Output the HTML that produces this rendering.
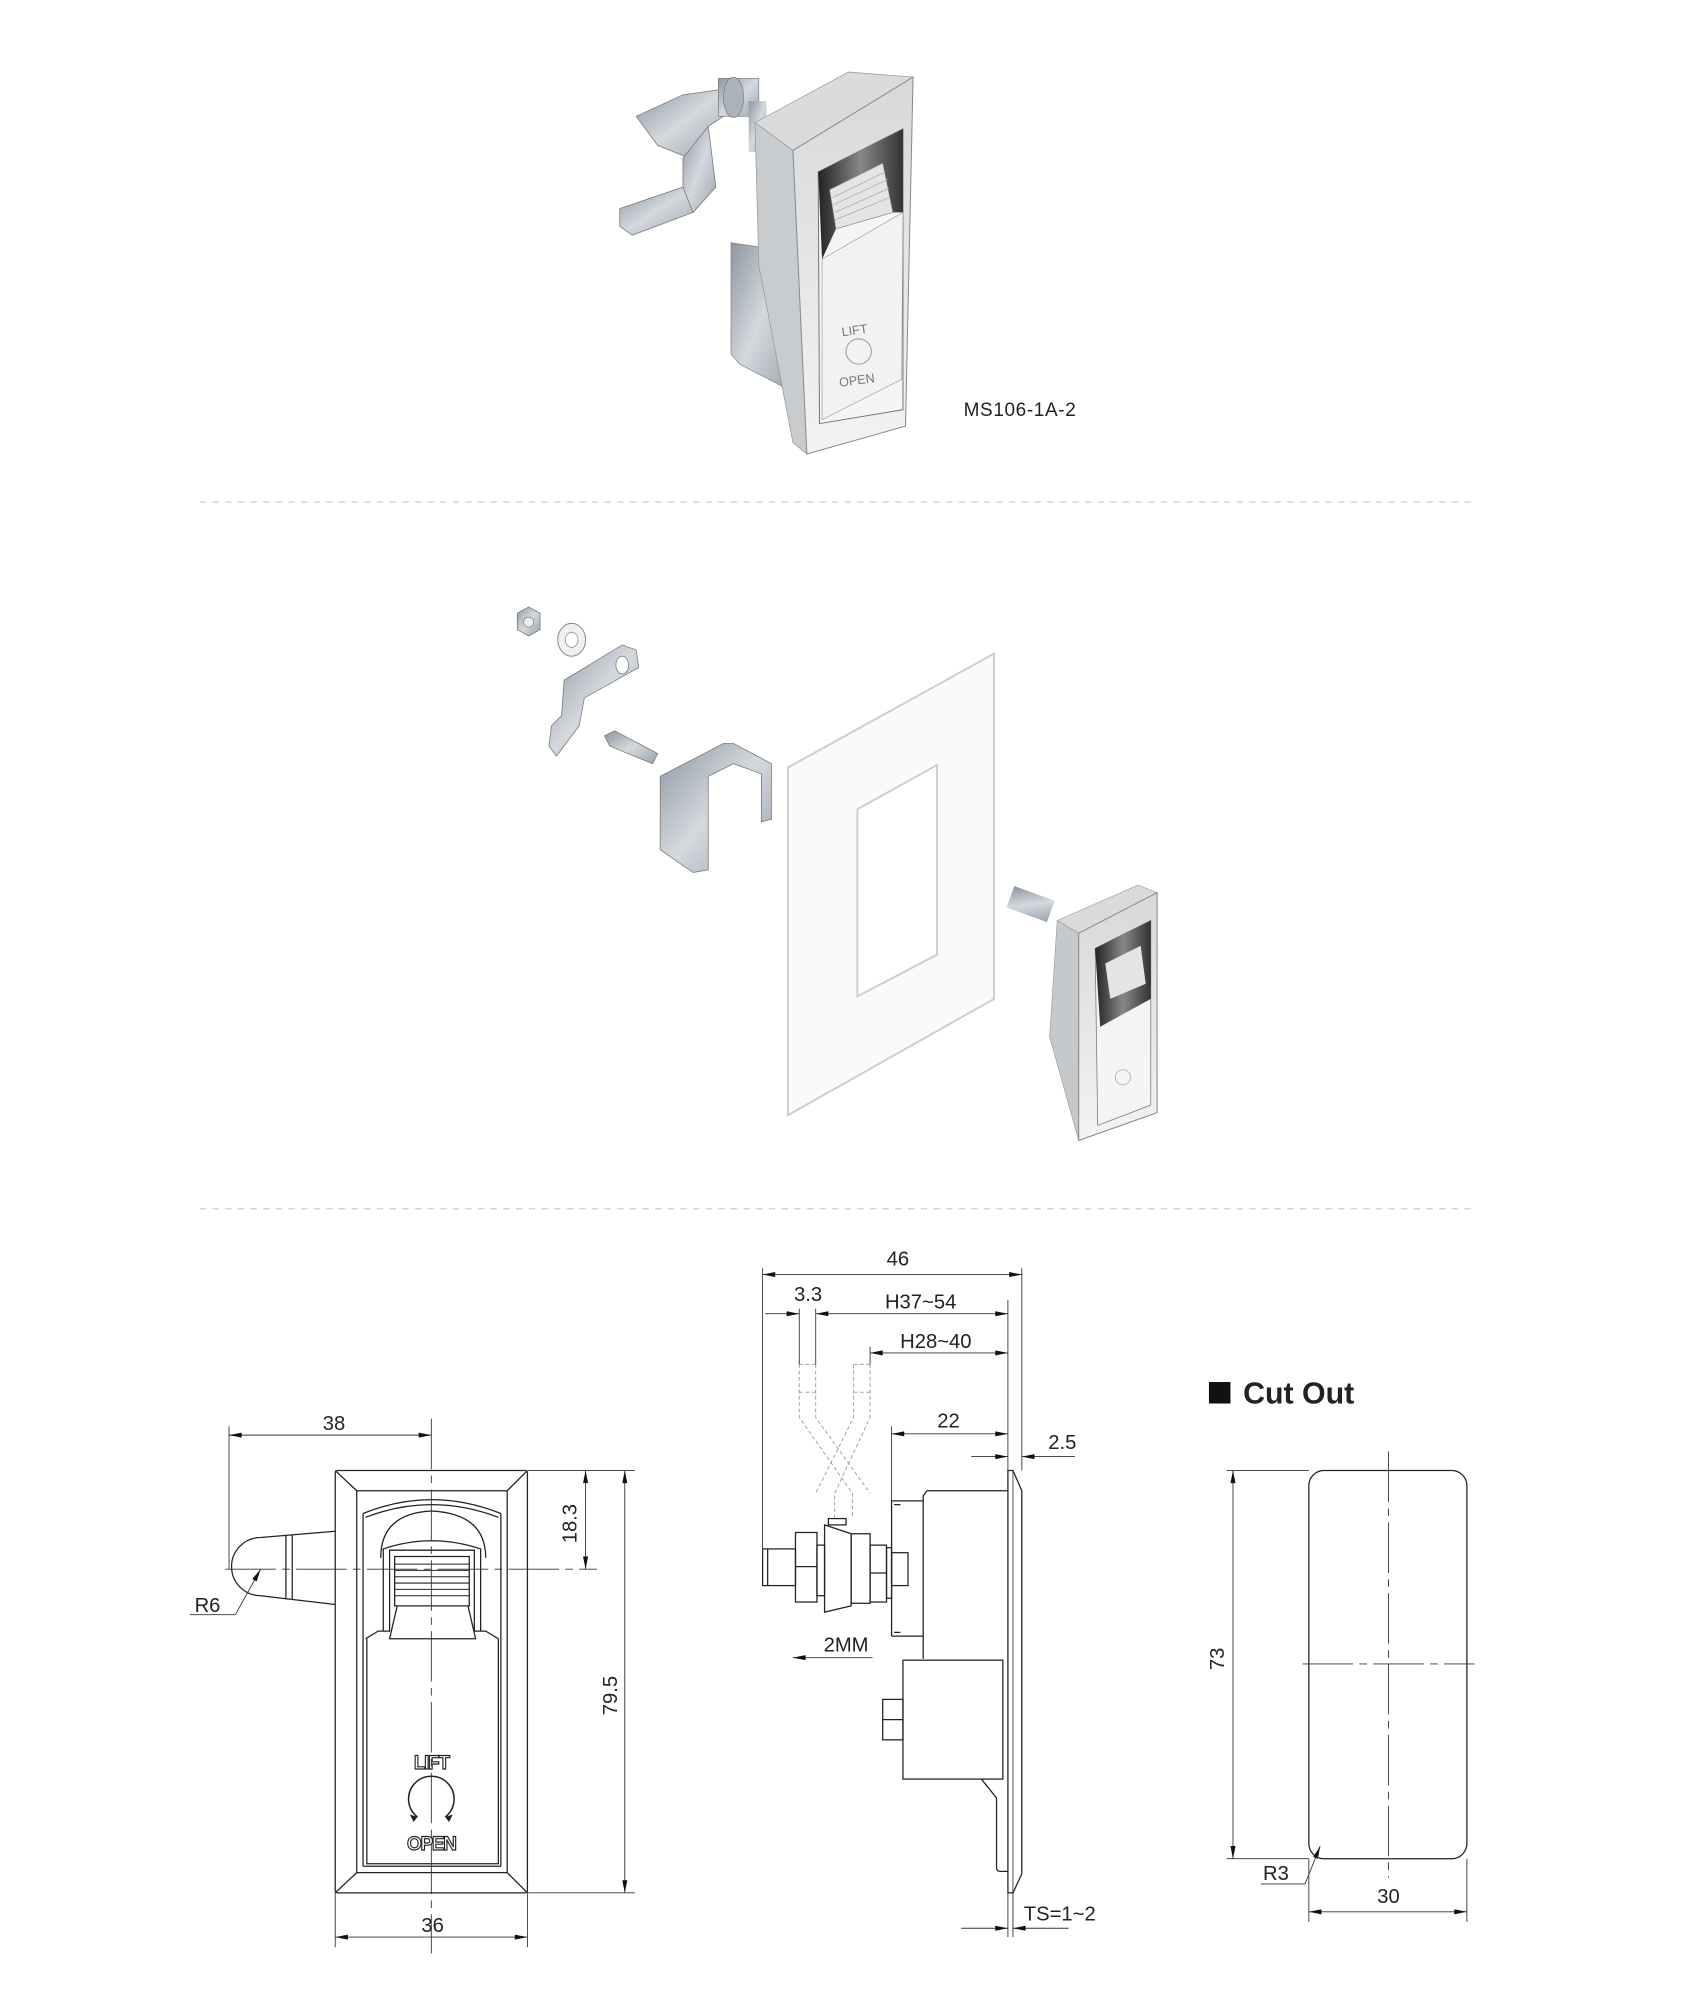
<!DOCTYPE html>
<html><head><meta charset="utf-8"><style>
html,body{margin:0;padding:0;background:#fff;}
svg{display:block;}
text{font-family:"Liberation Sans","DejaVu Sans",sans-serif;}
</style></head><body>
<svg width="1682" height="1994" viewBox="0 0 1330 1577" xmlns="http://www.w3.org/2000/svg">
<defs>
<linearGradient id="face" x1="0" y1="0" x2="0" y2="1"><stop offset="0" stop-color="#d6d8da"/><stop offset="1" stop-color="#f2f3f4"/></linearGradient>
<linearGradient id="zinc" x1="0" y1="0" x2="1" y2="1"><stop offset="0" stop-color="#8d96a0"/><stop offset="0.5" stop-color="#d4d9de"/><stop offset="1" stop-color="#9aa3ab"/></linearGradient>
<linearGradient id="dark" x1="0" y1="0" x2="1" y2="0"><stop offset="0" stop-color="#222"/><stop offset="0.5" stop-color="#888"/><stop offset="1" stop-color="#333"/></linearGradient>
<marker id="ar" viewBox="0 0 10 4" refX="10" refY="2" markerWidth="12" markerHeight="4" markerUnits="userSpaceOnUse" orient="auto-start-reverse"><path d="M0,0 L10,2 L0,4 z" fill="#111"/></marker>
</defs>

<line x1="158" y1="397" x2="1165" y2="397" stroke="#ccc" stroke-width="1" stroke-dasharray="5,5"/>
<line x1="158" y1="956" x2="1165" y2="956" stroke="#ccc" stroke-width="1" stroke-dasharray="5,5"/>

<!-- TOP PRODUCT -->
<g>
 <polygon points="503,92 540,75 575,70 575,90 560,100 545,125 520,115" fill="url(#zinc)" stroke="#777" stroke-width="0.6"/>
 <polygon points="540,125 560,100 566,148 548,168 540,160" fill="url(#zinc)" stroke="#777" stroke-width="0.6"/>
 <polygon points="490,165 540,148 548,168 500,186 490,179" fill="url(#zinc)" stroke="#777" stroke-width="0.6"/>
 <rect x="568" y="62" width="32" height="30" fill="url(#zinc)" stroke="#777" stroke-width="0.5"/>
 <ellipse cx="580" cy="77" rx="8" ry="16" fill="#aab2ba" stroke="#777" stroke-width="0.5"/>
 <rect x="592" y="80" width="14" height="40" fill="url(#zinc)"/>
 <polygon points="578,192 618,198 627,208 627,310 585,288 578,280" fill="url(#zinc)" stroke="#888" stroke-width="0.6"/>
 <polygon points="597,97 671,57 722,61 627,119" fill="#d9dbdd" stroke="#999" stroke-width="0.6"/>
 <polygon points="597,97 627,119 638,359 627,350 600,210" fill="#c9ccce" stroke="#999" stroke-width="0.6"/>
 <polygon points="627,119 722,61 716,337 638,359" fill="url(#face)" stroke="#8a8a8a" stroke-width="0.8"/>
 <polygon points="647,136 714,102 714,324 648,335" fill="#f4f5f6" stroke="#777" stroke-width="0.8"/>
 <polygon points="647,136 714,102 714,168 706,168 698,129 656,150 661,181 650,205" fill="url(#dark)"/>
 <polygon points="656,150 698,129 706,168 661,181" fill="#e2e4e6" stroke="#888" stroke-width="0.5"/>
 <g stroke="#aaa" stroke-width="0.6">
  <line x1="659" y1="156" x2="700" y2="136"/><line x1="659" y1="162" x2="702" y2="142"/><line x1="660" y1="168" x2="703" y2="149"/><line x1="660" y1="174" x2="704" y2="156"/>
 </g>
 <polygon points="650,205 714,168 713,300 650,332" fill="#f1f2f3" stroke="#999" stroke-width="0.5"/>
 <text x="666" y="266" font-size="10" fill="#777" transform="rotate(-8 666 266)">LIFT</text>
 <circle cx="679" cy="278" r="10" fill="none" stroke="#999" stroke-width="0.8"/>
 <text x="664" y="306" font-size="10" fill="#777" transform="rotate(-8 664 306)">OPEN</text>
</g>
<text x="762" y="329" font-size="15" fill="#222" letter-spacing="0.5">MS106-1A-2</text>

<!-- EXPLODED VIEW -->
<g>
 <polygon points="409,485 418,480 427,485 427,498 418,503 409,498" fill="url(#zinc)" stroke="#777" stroke-width="0.6"/>
 <circle cx="418" cy="492" r="4" fill="#eee" stroke="#777" stroke-width="0.5"/>
 <ellipse cx="452" cy="506" rx="11" ry="13" fill="#f0f0f0" stroke="#888" stroke-width="0.8"/>
 <ellipse cx="452" cy="506" rx="5" ry="6" fill="#fff" stroke="#888" stroke-width="0.6"/>
 <polygon points="446,538 492,510 503,514 505,528 462,552 458,574 440,598 434,590 436,574 444,566" fill="url(#zinc)" stroke="#777" stroke-width="0.6"/>
 <ellipse cx="492" cy="526" rx="5" ry="7" fill="#fff" stroke="#777" stroke-width="0.6"/>
 <polygon points="478,582 486,578 520,596 516,604 482,590" fill="url(#zinc)" stroke="#777" stroke-width="0.6"/>
 <polygon points="522,614 572,588 580,588 610,604 610,648 602,650 602,612 580,604 560,614 560,688 548,690 522,672" fill="url(#zinc)" stroke="#777" stroke-width="0.6"/>
 <polygon points="623,607 786,517 786,790 623,882" fill="#fafafa" stroke="#ccc" stroke-width="1.5"/>
 <polygon points="678,640 741,605 741,755 678,788" fill="#fff" stroke="#ccc" stroke-width="1.5"/>
 <rect x="798" y="706" width="34" height="18" fill="url(#zinc)" transform="rotate(20 815 715)"/>
 <polygon points="836,728 900,700 915,706 853,738" fill="#d8dadc" stroke="#999" stroke-width="0.5"/>
 <polygon points="836,728 853,738 853,902 830,820" fill="#c6c9cb" stroke="#999" stroke-width="0.5"/>
 <polygon points="853,738 915,706 915,880 853,902" fill="url(#face)" stroke="#888" stroke-width="0.8"/>
 <polygon points="866,750 910,728 910,874 868,890" fill="#f3f4f5" stroke="#777" stroke-width="0.6"/>
 <polygon points="866,750 910,728 910,790 870,812" fill="url(#dark)"/>
 <polygon points="874,762 902,748 906,778 878,790" fill="#e2e4e6"/>
 <circle cx="888" cy="852" r="6" fill="none" stroke="#aaa" stroke-width="0.6"/>
</g>

<!-- FRONT VIEW DRAWING -->
<g fill="none" stroke="#222" stroke-width="1">
 <rect x="265" y="1163" width="152" height="334" rx="2"/>
 <rect x="282" y="1179" width="119" height="302"/>
 <line x1="265" y1="1163" x2="282" y2="1179"/><line x1="417" y1="1163" x2="401" y2="1179"/>
 <line x1="265" y1="1497" x2="282" y2="1481"/><line x1="417" y1="1497" x2="401" y2="1481"/>
 <path d="M287,1197 Q341,1175 396,1197"/><path d="M289,1200 Q341,1180 394,1200"/>
 <line x1="287" y1="1197" x2="287" y2="1476"/><line x1="396" y1="1197" x2="396" y2="1476"/>
 <path d="M290,1296 L290,1474 L394,1474 L394,1296"/>
 <line x1="287" y1="1476" x2="396" y2="1476"/>
 <path d="M301,1232 Q301,1197 341,1195 Q384,1197 384,1232"/>
 <path d="M303,1290 L303,1225 Q341,1212 380,1225 L380,1290"/>
 <path d="M289,1296 L299,1290 L308,1290 L308,1226 L375,1226 L375,1290 L384,1290 L394,1296"/>
 <path d="M312,1231 L371,1231 L371,1270 L312,1270 Z"/>
 <g stroke-width="0.8"><line x1="312" y1="1237" x2="371" y2="1237"/><line x1="312" y1="1242" x2="371" y2="1242"/><line x1="312" y1="1247" x2="371" y2="1247"/><line x1="312" y1="1252" x2="371" y2="1252"/><line x1="312" y1="1257" x2="371" y2="1257"/><line x1="312" y1="1262" x2="371" y2="1262"/></g>
 <path d="M314,1270 L308,1296 L376,1296 L370,1270"/>
 <path d="M265,1211 L206,1216 A23,23 0 0 0 206,1262 L265,1269"/>
 <line x1="226" y1="1214" x2="226" y2="1265"/><line x1="231" y1="1214" x2="231" y2="1265"/>
 <path d="M330,1437 A18,18 0 1 1 352,1437" stroke-width="1.2"/>
</g>
<path d="M330,1437 l-6,-2 l3,6 z M352,1437 l6,-2 l-3,6 z" fill="#222"/>
<text x="341" y="1399" font-size="15" text-anchor="middle" fill="#fff" stroke="#222" stroke-width="0.9" font-weight="bold" letter-spacing="-1">LIFT</text>
<text x="341" y="1463" font-size="15" text-anchor="middle" fill="#fff" stroke="#222" stroke-width="0.9" font-weight="bold" letter-spacing="-1">OPEN</text>
<g stroke="#333" stroke-width="0.7" stroke-dasharray="40,5,6,5">
 <line x1="341" y1="1122" x2="341" y2="1545"/>
 <line x1="178" y1="1241" x2="472" y2="1241"/>
</g>
<g stroke="#333" stroke-width="0.7" fill="none">
 <line x1="181" y1="1128" x2="181" y2="1241"/>
 <line x1="181" y1="1135" x2="341" y2="1135" marker-start="url(#ar)" marker-end="url(#ar)"/>
 <line x1="265" y1="1497" x2="265" y2="1540"/><line x1="417" y1="1497" x2="417" y2="1540"/>
 <line x1="265" y1="1532" x2="417" y2="1532" marker-start="url(#ar)" marker-end="url(#ar)"/>
 <line x1="417" y1="1163" x2="502" y2="1163"/><line x1="417" y1="1497" x2="502" y2="1497"/>
 <line x1="494" y1="1163" x2="494" y2="1497" marker-start="url(#ar)" marker-end="url(#ar)"/>
 <line x1="463" y1="1163" x2="463" y2="1241" marker-start="url(#ar)" marker-end="url(#ar)"/>
 <line x1="206" y1="1241" x2="186" y2="1277" marker-start="url(#ar)"/>
 <line x1="186" y1="1277" x2="150" y2="1277"/>
</g>
<g font-size="16" fill="#222">
 <text x="264" y="1131" text-anchor="middle">38</text>
 <text x="342" y="1528" text-anchor="middle">36</text>
 <text x="164" y="1275" text-anchor="middle">R6</text>
 <text transform="translate(488,1341) rotate(-90)" text-anchor="middle">79.5</text>
 <text transform="translate(456,1205) rotate(-90)" text-anchor="middle">18.3</text>
</g>

<!-- SIDE VIEW -->
<g fill="none" stroke="#222" stroke-width="1">
 <polygon points="797,1163 801,1163 808,1179 808,1482 801,1497 797,1497"/>
 <line x1="801" y1="1163" x2="801" y2="1497" stroke-width="0.6"/>
 <path d="M730,1312 L730,1183 L733,1179 L797,1179"/>
 <path d="M705,1294 L705,1187 L730,1187 M705,1294 L730,1294"/>
 <line x1="707" y1="1190" x2="712" y2="1190"/><line x1="707" y1="1291" x2="712" y2="1291"/>
 <rect x="714" y="1313" width="79" height="94"/>
 <rect x="698" y="1344" width="16" height="32"/><line x1="698" y1="1360" x2="714" y2="1360"/>
 <path d="M776,1407 L788,1422 L788,1477 Q788,1480 791,1480 L797,1480"/>
 <rect x="603" y="1225" width="26" height="29"/><line x1="607" y1="1225" x2="607" y2="1254"/>
 <rect x="629" y="1212" width="17" height="55"/><line x1="629" y1="1239" x2="646" y2="1239"/>
 <rect x="646" y="1222" width="6" height="40"/>
 <polygon points="652,1206 673,1213 673,1270 652,1275"/>
 <rect x="655" y="1201" width="14" height="5"/>
 <rect x="673" y="1213" width="15" height="55"/>
 <rect x="688" y="1222" width="13" height="45"/><line x1="688" y1="1244" x2="701" y2="1244"/>
 <rect x="701" y="1224" width="4" height="40"/>
 <rect x="705" y="1228" width="13" height="26"/>
</g>
<g fill="none" stroke="#999" stroke-width="0.7" stroke-dasharray="3,2">
 <path d="M632,1079 L632,1121 L674,1181 L674,1201"/>
 <path d="M645,1079 L645,1121 L688,1181"/>
 <path d="M688,1079 L688,1121 L660,1181 L660,1201"/>
 <path d="M675,1079 L675,1121 L645,1181"/>
 <line x1="632" y1="1079" x2="645" y2="1079"/><line x1="675" y1="1079" x2="688" y2="1079"/>
 <line x1="632" y1="1101" x2="645" y2="1101"/><line x1="675" y1="1101" x2="688" y2="1101"/>
</g>
<g stroke="#333" stroke-width="0.7" fill="none">
 <line x1="603" y1="1003" x2="603" y2="1230"/>
 <line x1="808" y1="1003" x2="808" y2="1163"/>
 <line x1="797" y1="1028" x2="797" y2="1163"/>
 <line x1="603" y1="1008" x2="808" y2="1008" marker-start="url(#ar)" marker-end="url(#ar)"/>
 <line x1="632" y1="1035" x2="632" y2="1079"/><line x1="645" y1="1035" x2="645" y2="1079"/>
 <line x1="605" y1="1039" x2="632" y2="1039" marker-end="url(#ar)"/>
 <line x1="645" y1="1039" x2="797" y2="1039" marker-start="url(#ar)" marker-end="url(#ar)"/>
 <line x1="688" y1="1065" x2="688" y2="1079"/>
 <line x1="688" y1="1070" x2="797" y2="1070" marker-start="url(#ar)" marker-end="url(#ar)"/>
 <line x1="705" y1="1128" x2="705" y2="1187"/>
 <line x1="705" y1="1134" x2="797" y2="1134" marker-start="url(#ar)" marker-end="url(#ar)"/>
 <line x1="768" y1="1152" x2="797" y2="1152" marker-end="url(#ar)"/>
 <line x1="850" y1="1152" x2="808" y2="1152" marker-end="url(#ar)"/>
 <line x1="690" y1="1311" x2="627" y2="1311" marker-end="url(#ar)"/>
 <line x1="797" y1="1497" x2="797" y2="1532"/><line x1="801" y1="1497" x2="801" y2="1532"/>
 <line x1="760" y1="1525" x2="797" y2="1525" marker-end="url(#ar)"/>
 <line x1="845" y1="1525" x2="801" y2="1525" marker-end="url(#ar)"/>
</g>
<g font-size="16" fill="#222">
 <text x="710" y="1001" text-anchor="middle">46</text>
 <text x="639" y="1029" text-anchor="middle">3.3</text>
 <text x="728" y="1035" text-anchor="middle">H37~54</text>
 <text x="740" y="1066" text-anchor="middle">H28~40</text>
 <text x="750" y="1129" text-anchor="middle">22</text>
 <text x="840" y="1146" text-anchor="middle">2.5</text>
 <text x="669" y="1306" text-anchor="middle">2MM</text>
 <text x="838" y="1519" text-anchor="middle">TS=1~2</text>
</g>

<!-- CUT OUT -->
<rect x="956" y="1093" width="17" height="17" fill="#111"/>
<text x="983" y="1110" font-size="24" font-weight="bold" fill="#222">Cut Out</text>
<rect x="1035" y="1163" width="125" height="307" rx="12" fill="none" stroke="#222" stroke-width="1"/>
<g stroke="#333" stroke-width="0.7" stroke-dasharray="40,5,6,5">
 <line x1="1098" y1="1148" x2="1098" y2="1485"/>
 <line x1="1030" y1="1316" x2="1166" y2="1316"/>
</g>
<g stroke="#333" stroke-width="0.7" fill="none">
 <line x1="970" y1="1163" x2="1035" y2="1163"/><line x1="970" y1="1470" x2="1035" y2="1470"/>
 <line x1="975" y1="1163" x2="975" y2="1470" marker-start="url(#ar)" marker-end="url(#ar)"/>
 <line x1="1035" y1="1470" x2="1035" y2="1520"/><line x1="1160" y1="1470" x2="1160" y2="1520"/>
 <line x1="1035" y1="1512" x2="1160" y2="1512" marker-start="url(#ar)" marker-end="url(#ar)"/>
 <line x1="1044" y1="1460" x2="1032" y2="1490" marker-start="url(#ar)"/>
 <line x1="1032" y1="1490" x2="997" y2="1490"/>
</g>
<g font-size="16" fill="#222">
 <text transform="translate(968,1312) rotate(-90)" text-anchor="middle">73</text>
 <text x="1098" y="1505" text-anchor="middle">30</text>
 <text x="1009" y="1487" text-anchor="middle">R3</text>
</g>
</svg>
</body></html>
